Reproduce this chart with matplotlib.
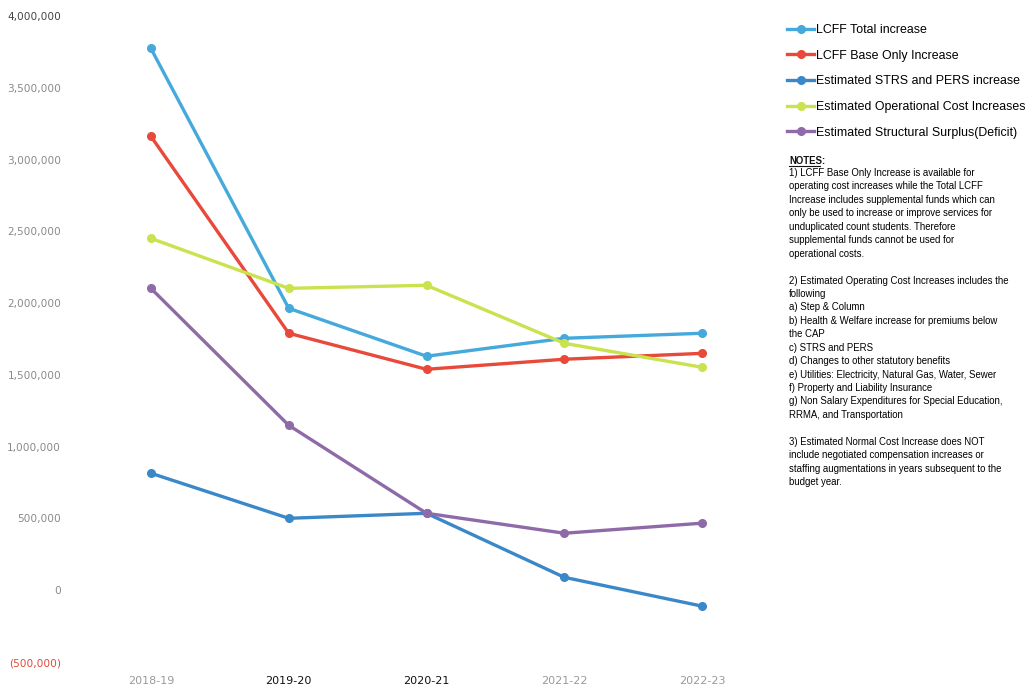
import matplotlib
matplotlib.use('Agg')
import matplotlib.pyplot as plt
from matplotlib.ticker import FuncFormatter

years = ['2018-19', '2019-20', '2020-21', '2021-22', '2022-23']
lcff_total = [3774000, 1964000, 1630000, 1755000, 1790000]
lcff_base = [3162000, 1790000, 1539000, 1609000, 1650000]
strs_pers = [815000, 501000, 536000, 90000, -111000]
oper_cost = [2451000, 2103000, 2124000, 1720000, 1553000]
surplus = [2103000, 1149000, 536000, 397000, 467000]

labels = ['LCFF Total increase', 'LCFF Base Only Increase', 'Estimated STRS and PERS increase',
          'Estimated Operational Cost Increases', 'Estimated Structural Surplus(Deficit)']
colors = ['#45a9dc', '#e8493a', '#3b88c9', '#c9e24e', '#8f6aa8']

notes = ['1) LCFF Base Only Increase is available for',
         'operating cost increases while the Total LCFF',
         'Increase includes supplemental funds which can',
         'only be used to increase or improve services for',
         'unduplicated count students. Therefore',
         'supplemental funds cannot be used for',
         'operational costs.',
         '',
         '2) Estimated Operating Cost Increases includes the',
         'following',
         'a) Step & Column',
         'b) Health & Welfare increase for premiums below',
         'the CAP',
         'c) STRS and PERS',
         'd) Changes to other statutory benefits',
         'e) Utilities: Electricity, Natural Gas, Water, Sewer',
         'f) Property and Liability Insurance',
         'g) Non Salary Expenditures for Special Education,',
         'RRMA, and Transportation',
         '',
         '3) Estimated Normal Cost Increase does NOT',
         'include negotiated compensation increases or',
         'staffing augmentations in years subsequent to the',
         'budget year.']

fig = plt.figure(figsize=(10.32, 6.9), dpi=100)
ax = fig.add_axes([82 / 1032, 1 - 662 / 690, (771 - 82) / 1032, (662 - 16) / 690])

x = list(range(len(years)))
series = [lcff_total, lcff_base, strs_pers, oper_cost, surplus]
handles = []
for s, lab, c in zip(series, labels, colors):
    h, = ax.plot(x, s, color=c, lw=2.4, marker='o', markersize=5.5, label=lab)
    handles.append(h)

ax.set_xlim(-0.5, 4.5)
ax.set_ylim(-500000, 4000000)
ax.set_yticks(range(-500000, 4000001, 500000))
ax.yaxis.set_major_formatter(FuncFormatter(
    lambda v, p: '0' if v == 0 else ('({:,.0f})'.format(-v) if v < 0 else '{:,.0f}'.format(v))))
ax.set_xticks(x)
ax.set_xticklabels(years)
for sp in ax.spines.values():
    sp.set_visible(False)
ax.tick_params(length=0)
ax.tick_params(axis='y', labelsize=7.6, pad=15)
ax.tick_params(axis='x', labelsize=8, pad=10)
for t in ax.get_yticklabels():
    t.set_color('#8a8a8a')
ax.get_yticklabels()[0].set_color('#e04a3a')
ax.get_yticklabels()[-1].set_color('#444444')
xcols = ['#9a9a9a', '#111111', '#111111', '#9a9a9a', '#9a9a9a']
for t, c in zip(ax.get_xticklabels(), xcols):
    t.set_color(c)

fig.legend(handles=handles, labels=labels, loc='upper left', bbox_to_anchor=(776 / 1032, 1 - 13 / 690),
           frameon=False, handlelength=2.2, handletextpad=0.15, labelspacing=1.1,
           prop={'family': 'Liberation Sans', 'size': 8.9})

fig.text(789 / 1032, 1 - 161 / 690, 'NOTES:', fontsize=6.9, fontweight='bold', va='center',
         family='Liberation Sans', color='#111111')
fig.add_artist(plt.Line2D([789 / 1032, 820 / 1032], [1 - 166 / 690, 1 - 166 / 690], color='#111111', lw=0.8))
fig.text(789 / 1032, 1 - 168 / 690, '\n'.join(notes), fontsize=6.9, va='top',
         family='Liberation Sans', linespacing=1.43, color='#000000')

fig.savefig('out.png', dpi=100)
